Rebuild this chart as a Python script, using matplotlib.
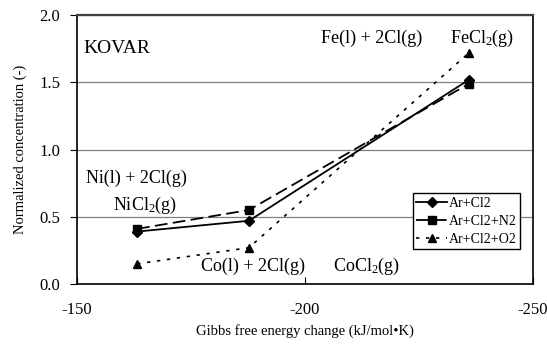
import matplotlib
matplotlib.use("Agg")
import matplotlib.pyplot as plt

plt.rcParams['font.family'] = ['Liberation Serif', 'DejaVu Serif']
plt.rcParams['mathtext.fontset'] = 'custom'
plt.rcParams['mathtext.rm'] = 'Liberation Serif'
plt.rcParams['mathtext.it'] = 'Liberation Serif:italic'
plt.rcParams['axes.unicode_minus'] = False

# Gibbs free energy change (kJ/mol K) for Ni, Co, Fe chlorides
gibbs = [-163.2, -187.7, -236.0]
ar_cl2 = [0.39, 0.47, 1.52]
ar_cl2_n2 = [0.41, 0.55, 1.49]
ar_cl2_o2 = [0.15, 0.27, 1.72]

fig = plt.figure(figsize=(5.47, 3.44), dpi=100)
ax = fig.add_axes([77 / 547, 60 / 344, 456 / 547, 269 / 344])

ax.plot(gibbs, ar_cl2, color='black', lw=1.3, marker='D', ms=5, label='Ar+Cl2')
ax.plot(gibbs, ar_cl2_n2, color='black', lw=1.3, ls=(0, (7, 3)), marker='s', ms=6,
        label='Ar+Cl2+N2')
ax.plot(gibbs, ar_cl2_o2, color='black', lw=1.2, ls=(0, (2, 4)), marker='^', ms=6,
        label='Ar+Cl2+O2')

ax.set_xlim(-150, -250)
ax.set_ylim(0, 2.0)
ax.set_xticks([-150, -200, -250])
ax.set_yticks([0, 0.5, 1.0, 1.5, 2.0])
ax.set_yticklabels(['0.0', '0.5', '1.0', '1.5', '2.0'])
ax.yaxis.grid(True, color='#808080', lw=0.9)
ax.set_axisbelow(True)
ax.tick_params(axis='x', direction='in', length=5, pad=13, labelsize=12)
ax.tick_params(axis='y', direction='out', length=5, pad=7, labelsize=12)
for s in ax.spines.values():
    s.set_linewidth(1.2)
ax.spines['top'].set_color('#404040')
ax.spines['top'].set_linewidth(1.6)

ax.set_xlabel('Gibbs free energy change (kJ/mol\u2022K)', fontsize=10.5)
ax.set_ylabel('Normalized concentration (-)', fontsize=10.5, labelpad=9)

ax.text(-151.5, 1.72, 'KOVAR', fontsize=14)
ax.text(-203.6, 1.79, 'Fe(l) + 2Cl(g)', fontsize=13)
ax.text(-231.8, 1.79, 'FeCl$_2$(g)', fontsize=13)
ax.text(-152, 0.75, 'Ni(l) + 2Cl(g)', fontsize=13)
ax.text(-158, 0.55, 'NiCl$_2$(g)', fontsize=13)
ax.text(-177.1, 0.1, 'Co(l) + 2Cl(g)', fontsize=13)
ax.text(-206.2, 0.1, 'CoCl$_2$(g)', fontsize=13)

leg = ax.legend(loc='lower right', bbox_to_anchor=(0.971, 0.13), fontsize=10,
                frameon=True, fancybox=False, edgecolor='black', framealpha=1,
                handlelength=2.2, handletextpad=0.1, borderpad=0.25,
                labelspacing=0.35, borderaxespad=0)
leg.get_frame().set_linewidth(1.0)

fig.savefig('out.png', dpi=100)
